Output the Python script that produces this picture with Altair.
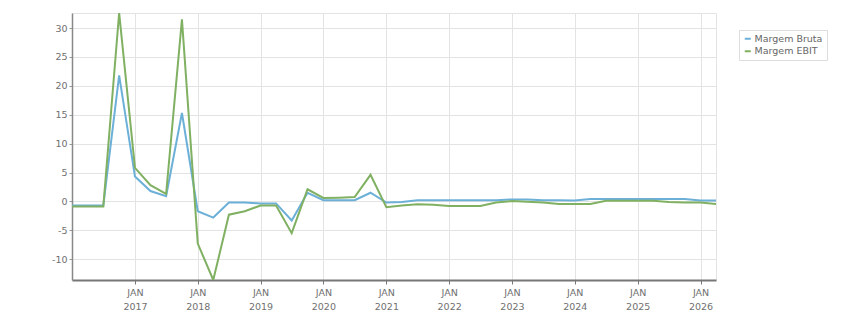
import altair as alt
import pandas as pd

quarters = [
    "2016-01-01", "2016-04-01", "2016-07-01", "2016-10-01",
    "2017-01-01", "2017-04-01", "2017-07-01", "2017-10-01",
    "2018-01-01", "2018-04-01", "2018-07-01", "2018-10-01",
    "2019-01-01", "2019-04-01", "2019-07-01", "2019-10-01",
    "2020-01-01", "2020-04-01", "2020-07-01", "2020-10-01",
    "2021-01-01", "2021-04-01", "2021-07-01", "2021-10-01",
    "2022-01-01", "2022-04-01", "2022-07-01", "2022-10-01",
    "2023-01-01", "2023-04-01", "2023-07-01", "2023-10-01",
    "2024-01-01", "2024-04-01", "2024-07-01", "2024-10-01",
    "2025-01-01", "2025-04-01", "2025-07-01", "2025-10-01",
    "2026-01-01", "2026-04-01",
]
margem_bruta = [
    -0.7, -0.7, -0.7, 21.8,
    4.3, 1.8, 0.9, 15.3,
    -1.7, -2.8, -0.2, -0.2,
    -0.35, -0.35, -3.3, 1.5,
    0.2, 0.2, 0.2, 1.5,
    -0.2, -0.1, 0.2, 0.2,
    0.2, 0.2, 0.2, 0.2,
    0.35, 0.35, 0.2, 0.2,
    0.15, 0.4, 0.4, 0.4,
    0.4, 0.4, 0.4, 0.4,
    0.15, 0.15,
]
margem_ebit = [
    -0.9, -0.9, -0.9, 32.6,
    5.8, 2.8, 1.3, 31.5,
    -7.3, -13.6, -2.3, -1.7,
    -0.7, -0.7, -5.5, 2.1,
    0.6, 0.65, 0.75, 4.6,
    -1.0, -0.7, -0.5, -0.6,
    -0.8, -0.8, -0.8, -0.2,
    0.05, -0.05, -0.2, -0.45,
    -0.45, -0.45, 0.1, 0.1,
    0.1, 0.1, -0.1, -0.2,
    -0.2, -0.45,
]
series_names = ["Margem Bruta", "Margem EBIT"]
series_colors = ["#6cb0d8", "#80b062"]
tick_years = list(range(2017, 2027))
y_ticks = [-10, -5, 0, 5, 10, 15, 20, 25, 30]

rows = []
for d, b, e in zip(quarters, margem_bruta, margem_ebit):
    rows.append({"date": d, "serie": series_names[0], "valor": b})
    rows.append({"date": d, "serie": series_names[1], "valor": e})
df = pd.DataFrame(rows)

font = "DejaVu Sans"
fsize = 9.5

chart = alt.Chart(df).mark_line(strokeWidth=2, clip=True).encode(
    x=alt.X(
        "date:T",
        scale=alt.Scale(type="utc", nice=False),
        axis=alt.Axis(
            title=None,
            values=[alt.DateTime(year=y, month=1, date=1, utc=True) for y in tick_years],
            labelExpr="['JAN', utcFormat(datum.value, '%Y')]",
            labelFontSize=fsize,
            labelColor="#707070",
            labelFont=font,
            labelLineHeight=14,
            labelPadding=3,
            tickSize=4,
            tickColor="#777777",
            domainColor="#777777",
            domainWidth=2,
            gridColor="#e3e3e3",
            labelFlush=False,
        ),
    ),
    y=alt.Y(
        "valor:Q",
        scale=alt.Scale(domain=[-13.6, 32.6], nice=False, zero=False),
        axis=alt.Axis(
            title=None,
            values=y_ticks,
            labelExpr="datum.value + ''",
            labelFontSize=fsize,
            labelColor="#707070",
            labelFont=font,
            labelPadding=2,
            tickSize=3,
            tickColor="#999999",
            domainColor="#888888",
            domainWidth=1.5,
            gridColor="#e3e3e3",
        ),
    ),
    color=alt.Color(
        "serie:N",
        scale=alt.Scale(domain=series_names, range=series_colors),
        legend=alt.Legend(
            title=None,
            orient="none",
            legendX=667,
            legendY=17,
            symbolType="stroke",
            symbolStrokeWidth=2,
            symbolSize=36,
            labelFontSize=fsize,
            labelFont=font,
            labelColor="#666666",
            labelOffset=2,
            rowPadding=1.5,
            padding=4,
            strokeColor="#dddddd",
            fillColor="white",
        ),
    ),
).properties(
    width=644,
    height=267,
    autosize=alt.AutoSizeParams(type="none"),
    padding={"left": 72, "top": 13, "right": 135, "bottom": 33},
).configure_view(
    stroke="#e3e3e3"
)

chart.save("out.html", embed_options={"renderer": "svg", "actions": False})
